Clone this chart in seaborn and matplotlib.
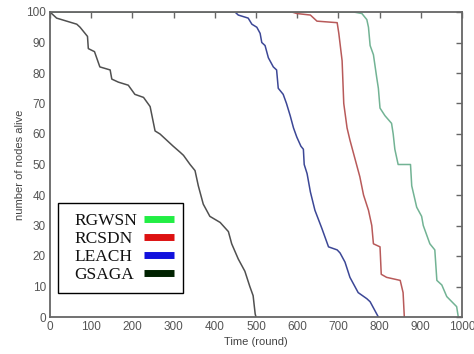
import matplotlib
matplotlib.use("Agg")
import matplotlib.pyplot as plt
from matplotlib.lines import Line2D
from matplotlib.offsetbox import HPacker, DrawingArea
import seaborn as sns
import pandas as pd

# ---- data ----
gsaga_x = [0, 16, 65, 73, 85, 91, 93, 108, 121, 146, 150, 166, 190, 206, 227, 243, 255, 267, 283, 299, 316, 324, 340,
           352, 360, 372, 388, 413, 433, 441, 457, 473, 485, 493, 498, 500]
gsaga_y = [100, 98, 96, 95, 93, 92, 88, 87, 82, 81, 78, 77, 76, 73, 72, 69, 61, 60, 58, 56, 54, 53, 50,
           48, 43, 37, 33, 31, 28, 24, 19, 15, 10, 7, 1, 0]

leach_x = [0, 449, 457, 481, 490, 502, 510, 514, 522, 530, 542, 550, 554, 566, 574, 583, 591, 599, 609, 615, 617,
           624, 632, 643, 660, 676, 697, 704, 716, 728, 748, 769, 777, 789, 797]
leach_y = [100, 100, 99, 98, 96, 95, 93, 90, 89, 85, 82, 81, 75, 73, 70, 66, 62, 59, 56, 55, 50,
           47, 41, 35, 29, 23, 22, 21, 18, 13, 8, 6, 5, 2, 0]

rcsdn_x = [0, 587, 599, 632, 648, 697, 701, 709, 713, 721, 728, 740, 752, 761, 773, 781, 785, 801, 804, 817, 850,
           857, 860]
rcsdn_y = [100, 100, 99.5, 99, 97, 96.5, 93, 84, 70, 62, 58, 52, 46, 40, 35, 30, 24, 23, 14, 13, 12, 8, 0]

rgwsn_x = [0, 737, 757, 769, 773, 777, 785, 793, 797, 801, 813, 829, 833, 837, 845, 875, 878, 890, 902, 906, 922,
           934, 939, 951, 963, 979, 987, 991]
rgwsn_y = [100, 100, 99.5, 97.5, 95, 89, 86, 78.5, 75, 68.5, 66, 63.5, 60, 55, 50, 50, 43, 36, 33, 30, 24,
           22, 12, 10.5, 6.7, 4.5, 3.4, 0]

series_names = ["RGWSN", "RCSDN", "LEACH", "GSAGA"]
x_ticks = [0, 100, 200, 300, 400, 500, 600, 700, 800, 900, 1000]
y_ticks = [0, 10, 20, 30, 40, 50, 60, 70, 80, 90, 100]
x_label = "Time (round)"
y_label = "number of nodes alive"

line_colors = {"RGWSN": "#72b394", "RCSDN": "#b85a5a", "LEACH": "#3c4796", "GSAGA": "#505050"}
legend_colors = {"RGWSN": "#22ee44", "RCSDN": "#dd1111", "LEACH": "#1111dd", "GSAGA": "#002200"}

frames = []
for name, xs, ys in [("RGWSN", rgwsn_x, rgwsn_y), ("RCSDN", rcsdn_x, rcsdn_y),
                     ("LEACH", leach_x, leach_y), ("GSAGA", gsaga_x, gsaga_y)]:
    frames.append(pd.DataFrame({"round": xs, "alive": ys, "protocol": name}))
df = pd.concat(frames, ignore_index=True)

sns.set_theme(style="white")
plt.rcParams["font.family"] = ["Liberation Sans", "DejaVu Sans"]

fig = plt.figure(figsize=(4.74, 3.54), dpi=100)
ax = fig.add_axes([50 / 474, 37 / 354, 412 / 474, 305 / 354])

for name in ["GSAGA", "LEACH", "RCSDN", "RGWSN"]:
    sub = df[df["protocol"] == name]
    sns.lineplot(data=sub, x="round", y="alive", ax=ax, color=line_colors[name],
                 linewidth=1.1, sort=False, estimator=None, legend=False)

ax.set_xlim(0, 1000)
ax.set_ylim(0, 100)
ax.set_xticks(x_ticks)
ax.set_yticks(y_ticks)
ax.tick_params(axis="both", direction="in", length=4, width=1, color="#666666",
               labelsize=8.5, labelcolor="#555555", top=True, right=True, pad=3)
for s in ax.spines.values():
    s.set_color("#666666")
    s.set_linewidth(1.3)
ax.set_xlabel(x_label, fontsize=8, color="#444444", labelpad=3)
ax.set_ylabel(y_label, fontsize=8, color="#444444", labelpad=1)

fs = 12.5
base_sep = 0.8
lead_pt = 5.0
handles = [Line2D([0], [0], color=legend_colors[n], lw=5, solid_capstyle="butt") for n in series_names]
leg = ax.legend(handles, series_names, loc="lower left",
                bbox_to_anchor=(0.019, 0.079),
                markerfirst=False, frameon=True, fancybox=False, framealpha=1,
                edgecolor="black", handlelength=1.7, handletextpad=base_sep,
                labelspacing=0.12, borderpad=0.55, borderaxespad=0,
                prop={"family": "Liberation Serif", "size": fs})
leg.get_frame().set_linewidth(1.0)
for t in leg.get_texts():
    t.set_color("#111111")

# left-align the label texts (with a small lead-in) while keeping the colour keys in one column
try:
    fig.canvas.draw()
    renderer = fig.canvas.get_renderer()
    widths = [t.get_window_extent(renderer).width for t in leg.get_texts()]
    maxw = max(widths)
    px_per_pt = fig.dpi / 72.0
    for col in leg._legend_handle_box.get_children():
        col.align = "left"
        for row, w in zip(col.get_children(), widths):
            row.sep = base_sep * fs - lead_pt + (maxw - w) / px_per_pt
            kids = row._children
            kids[0] = HPacker(pad=0, sep=0, align="baseline",
                              children=[DrawingArea(lead_pt, 0.1), kids[0]])
except Exception:
    pass

fig.savefig("out.png", dpi=100)
